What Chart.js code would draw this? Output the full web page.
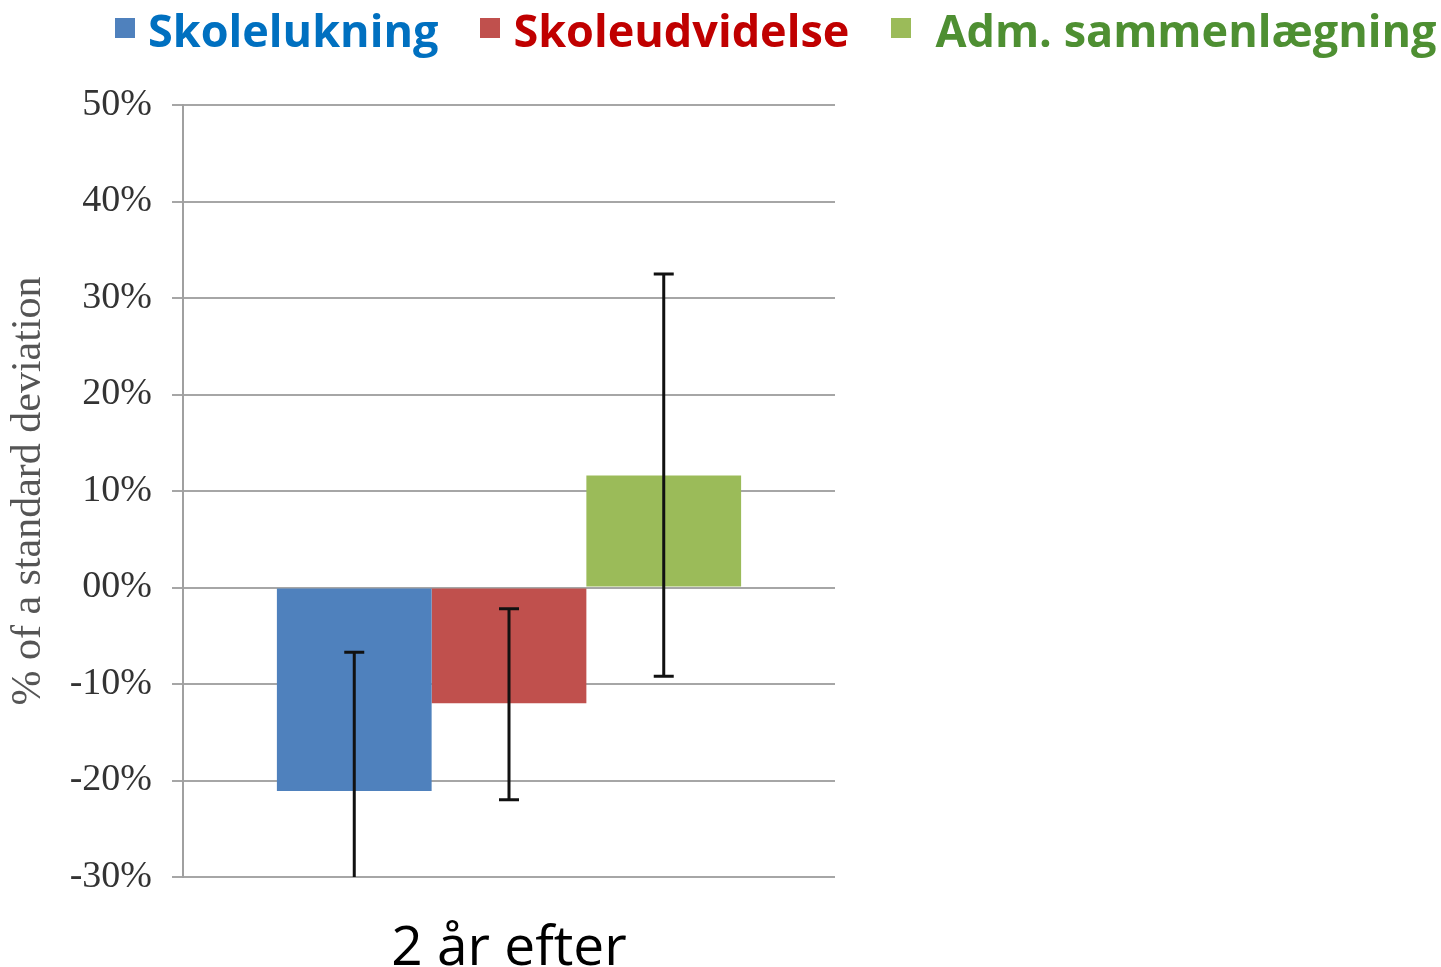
<!DOCTYPE html>
<html>
<head>
<meta charset="utf-8">
<script src="https://cdn.jsdelivr.net/npm/chart.js@4/dist/chart.umd.min.js"></script>
<style>
  body { margin: 0; background: #fff; }
  #wrap { position: relative; width: 1441px; height: 967px; }
  #boxGrafico { position: absolute; left: 0; top: 0; width: 860px; height: 967px; }
  #legenda { position: absolute; left: 115px; top: 0; display: flex; align-items: center; height: 58px;
             font-family: "Open Sans", sans-serif; font-weight: bold; font-size: 45px; white-space: nowrap; }
  #legenda .voce { display: flex; align-items: center; margin-right: 42px; }
  #legenda .voce:last-child .quadrato { margin-right: 24px; }
  #legenda .quadrato { width: 20px; height: 20px; margin-right: 13px; margin-top: -2px; }
</style>
</head>
<body>
<div id="wrap">
  <div id="boxGrafico"><canvas id="grafico"></canvas></div>
  <div id="legenda"></div>
</div>
<script>
// dati (% of a standard deviation)
const categorie = ["2 år efter"];
const serie = ["Skolelukning", "Skoleudvidelse", "Adm. sammenlægning"];
const valori = [-21.1, -12.0, 11.6];
const erroreAlto = [-6.7, -2.2, 32.5];
const erroreBasso = [-31.0, -22.0, -9.2];
const tickValori = [-30, -20, -10, 0, 10, 20, 30, 40, 50];
const tickEtichette = ["-30%", "-20%", "-10%", "00%", "10%", "20%", "30%", "40%", "50%"];

const coloriBarre = ["#4F81BD", "#C0504D", "#9BBB59"];
const coloriTesto = ["#0070C0", "#C00000", "#4E8F32"];

// legenda html
const legenda = document.getElementById("legenda");
serie.forEach((nome, i) => {
  const voce = document.createElement("div");
  voce.className = "voce";
  voce.innerHTML = `<span class="quadrato" style="background:${coloriBarre[i]}"></span><span style="color:${coloriTesto[i]}">${nome}</span>`;
  legenda.appendChild(voce);
});

// barre di errore disegnate sopra le barre
const barreErrore = {
  id: "barreErrore",
  afterDatasetsDraw(chart) {
    const ctx = chart.ctx;
    const y = chart.scales.y;
    const area = chart.chartArea;
    ctx.save();
    ctx.beginPath();
    ctx.rect(area.left, area.top - 2, area.right - area.left, area.bottom - area.top + 2);
    ctx.clip();
    ctx.strokeStyle = "#111";
    ctx.lineWidth = 3;
    serie.forEach((s, i) => {
      const bar = chart.getDatasetMeta(i).data[0];
      const x = bar.x;
      const yAlto = y.getPixelForValue(erroreAlto[i]);
      const yBasso = y.getPixelForValue(erroreBasso[i]);
      ctx.beginPath();
      ctx.moveTo(x, yAlto);
      ctx.lineTo(x, yBasso);
      ctx.moveTo(x - 10, yAlto);
      ctx.lineTo(x + 10, yAlto);
      ctx.moveTo(x - 10, yBasso);
      ctx.lineTo(x + 10, yBasso);
      ctx.stroke();
    });
    ctx.restore();
  }
};

new Chart(document.getElementById("grafico"), {
  type: "bar",
  data: {
    labels: categorie,
    datasets: serie.map((nome, i) => ({
      label: nome,
      data: [valori[i]],
      backgroundColor: coloriBarre[i],
      categoryPercentage: 0.712,
      barPercentage: 1
    }))
  },
  options: {
    responsive: true,
    maintainAspectRatio: false,
    animation: false,
    layout: { padding: { top: 105, right: 25, left: 0, bottom: 0 } },
    plugins: {
      legend: { display: false },
      tooltip: { enabled: false }
    },
    scales: {
      x: {
        grid: { display: false },
        border: { display: false },
        ticks: {
          color: "#000",
          padding: 31,
          font: { family: "Open Sans", size: 55 }
        },
        afterFit: s => { s.height = 90; }
      },
      y: {
        min: -30,
        max: 50,
        afterBuildTicks: s => { s.ticks = tickValori.map(v => ({ value: v })); },
        afterFit: s => { s.width = 183; },
        grid: { color: "#a6a6a6", lineWidth: 2, tickLength: 11 },
        border: { color: "#a0a0a0", width: 2 },
        ticks: {
          color: "#333",
          padding: 20,
          font: { family: "Liberation Serif", size: 38 },
          callback: v => tickEtichette[tickValori.indexOf(v)]
        },
        title: {
          display: true,
          text: "% of a standard deviation",
          color: "#555",
          padding: { top: 4, bottom: 4 },
          font: { family: "Liberation Serif", size: 42 }
        }
      }
    }
  },
  plugins: [barreErrore]
});
</script>
</body>
</html>
